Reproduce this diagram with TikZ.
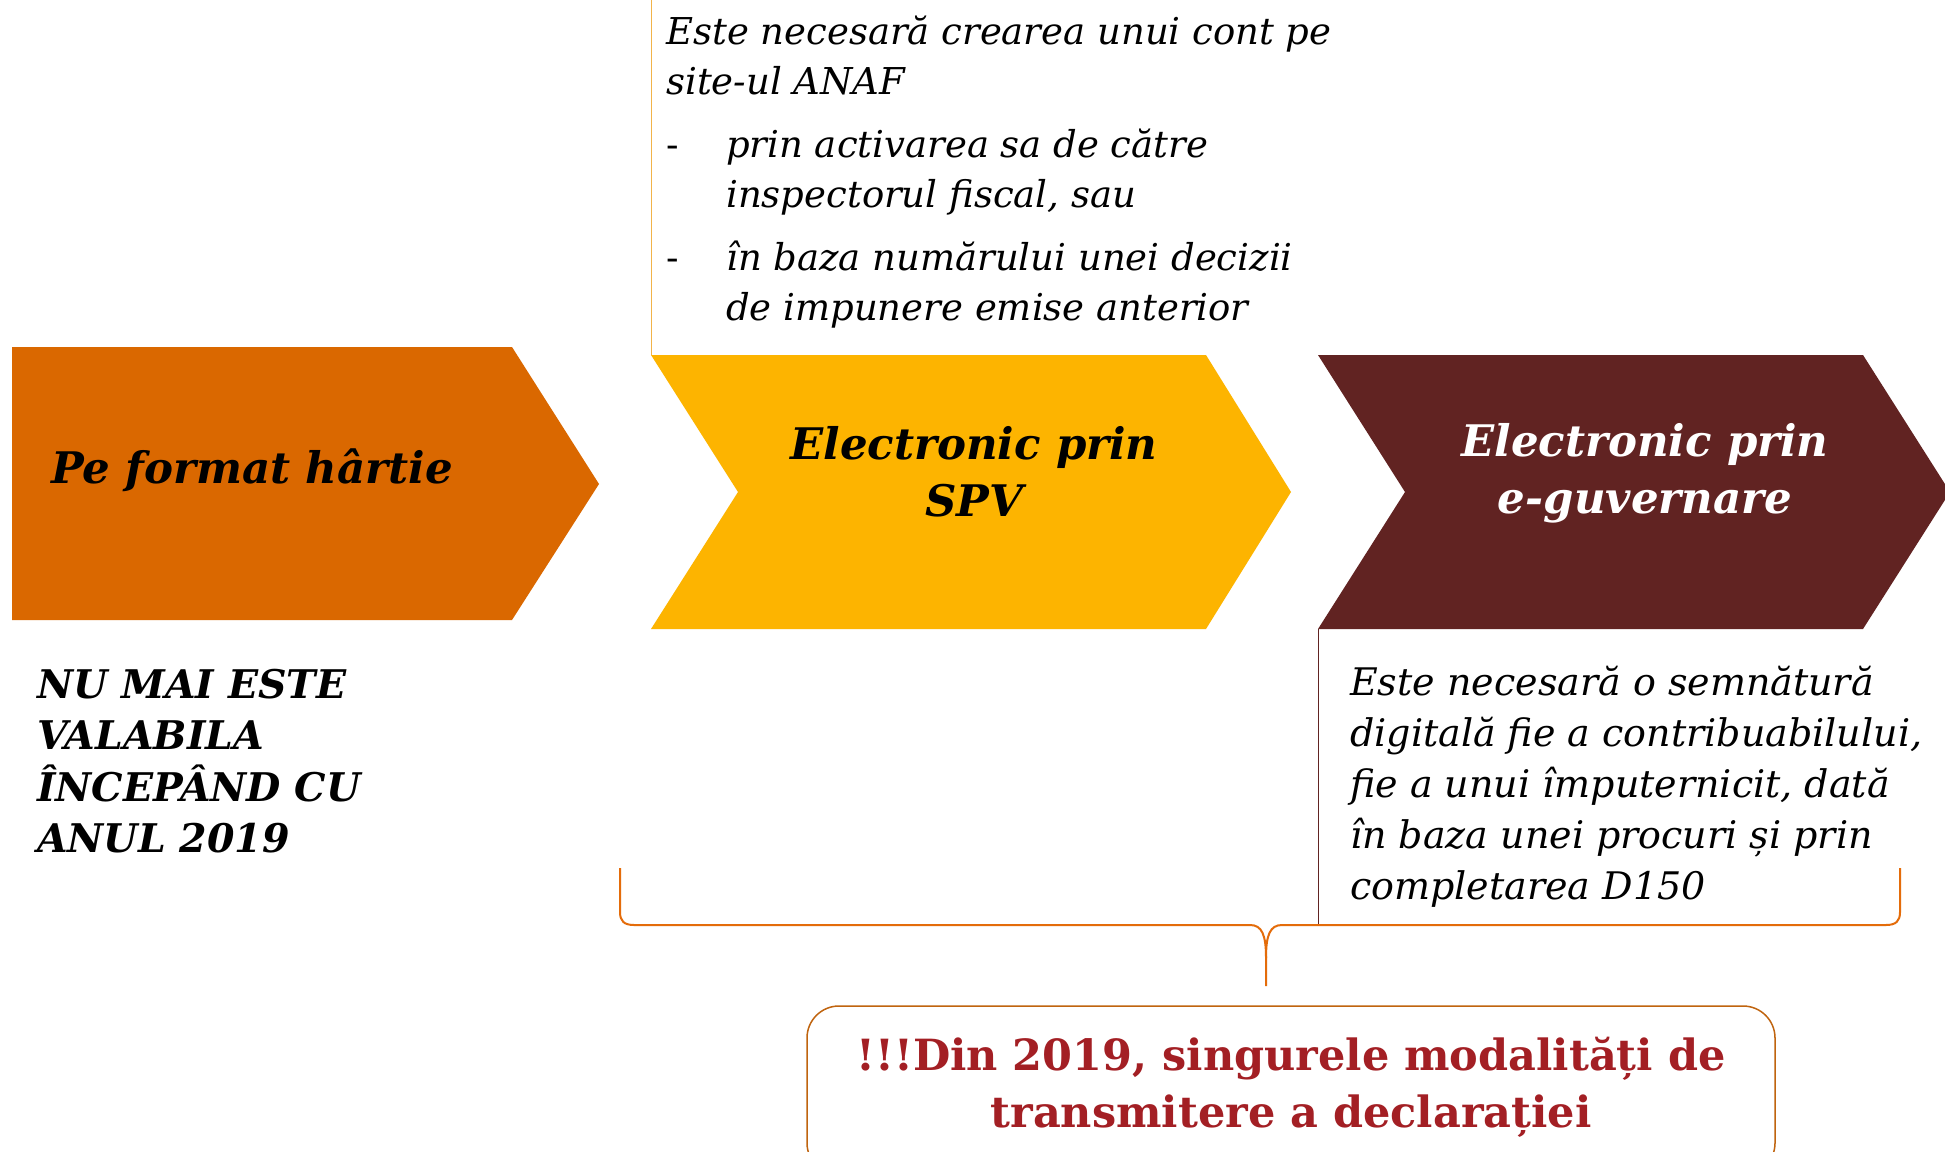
\documentclass[tikz,border=0pt]{standalone}
\usepackage{fontspec}
\setmainfont{DejaVu Serif}
\definecolor{cOrange}{HTML}{DA6800}
\definecolor{cYellow}{HTML}{FDB400}
\definecolor{cMaroon}{HTML}{612322}
\definecolor{cRed}{HTML}{A31F24}
\definecolor{cBrace}{HTML}{E46C0A}
\definecolor{cBorder}{HTML}{C0640F}
\definecolor{cLineY}{HTML}{F2B44A}
\begin{document}
\begin{tikzpicture}[x=1pt,y=-1pt,
  body/.style={font=\fontsize{37}{50}\selectfont\itshape, inner sep=0pt, align=left, text=black},
  bodyb/.style={font=\fontsize{38}{51}\selectfont\itshape, inner sep=0pt, align=left, text=black},
  title/.style={font=\fontsize{43.5}{57}\selectfont\bfseries\itshape, inner sep=0pt, align=center},
  note/.style={font=\fontsize{39.5}{51.5}\selectfont\bfseries\itshape, inner sep=0pt, align=left},
  boxtext/.style={font=\fontsize{43}{57}\selectfont\bfseries, inner sep=0pt, align=center, text=cRed},
  brace/.style={draw=cBrace, line width=2pt},
]
\useasboundingbox (0,0) rectangle (1945,1151);
\fill[white] (0,0) rectangle (1945,1151);

% chevrons
\fill[cOrange] (12,347) -- (512,347) -- (599,484) -- (512,620) -- (12,620) -- cycle;
\fill[cYellow] (651,355) -- (1206,355) -- (1291,492) -- (1206,629) -- (651,629) -- (738,492) -- cycle;
\fill[cMaroon] (1318,355) -- (1863,355) -- (1950,492) -- (1863,629) -- (1318,629) -- (1405,492) -- cycle;

% thin side lines
\draw[cLineY, line width=1pt] (651,0) -- (651,355);
\draw[cMaroon, line width=1pt] (1318,629) -- (1318,924);

% titles
\node[title, text=black] (paper) at (252,470) {Pe format hârtie};
\node[title, text=black] (spv) at (974,472) {Electronic prin\\SPV};
\node[title, text=white] (egov) at (1645,473) {Electronic prin\\e-guvernare};

% texts
\node[body, anchor=west] (spvtext) at (666,172) {Este necesară crearea unui cont pe\\site-ul ANAF\\[13pt]\makebox[60pt][l]{\upshape -}prin activarea sa de către\\\hspace*{60pt}inspectorul fiscal, sau\\[13pt]\makebox[60pt][l]{\upshape -}în baza numărului unei decizii\\\hspace*{60pt}de impunere emise anterior};
\node[note, anchor=west] (paperinfo) at (37,761) {NU MAI ESTE\\VALABILA\\ÎNCEPÂND CU\\ANUL 2019};
\node[bodyb, anchor=west] (egovtext) at (1350,787) {Este necesară o semnătură\\digitală fie a contribuabilului,\\fie a unui împuternicit, dată\\în baza unei procuri și prin\\completarea D150};

% brace
\coordinate (btip) at (1266,986);
\draw[brace] (620,868) -- (620,912) .. controls (620,921) and (624,925) .. (634,925) -- (1250,925) .. controls (1262,925) and (1266,935) .. (1266,958) -- (btip);
\draw[brace] (1266,958) .. controls (1266,935) and (1270,925) .. (1282,925) -- (1886,925) .. controls (1896,925) and (1900,921) .. (1900,912) -- (1900,868);

% bottom box
\node[boxtext] (final) at (1291,1087) {!!!Din 2019, singurele modalități de\\transmitere a declarației};
\draw[cBorder, line width=1.5pt, rounded corners=32pt] (807,1006) rectangle (1775,1175);
\end{tikzpicture}
\end{document}
